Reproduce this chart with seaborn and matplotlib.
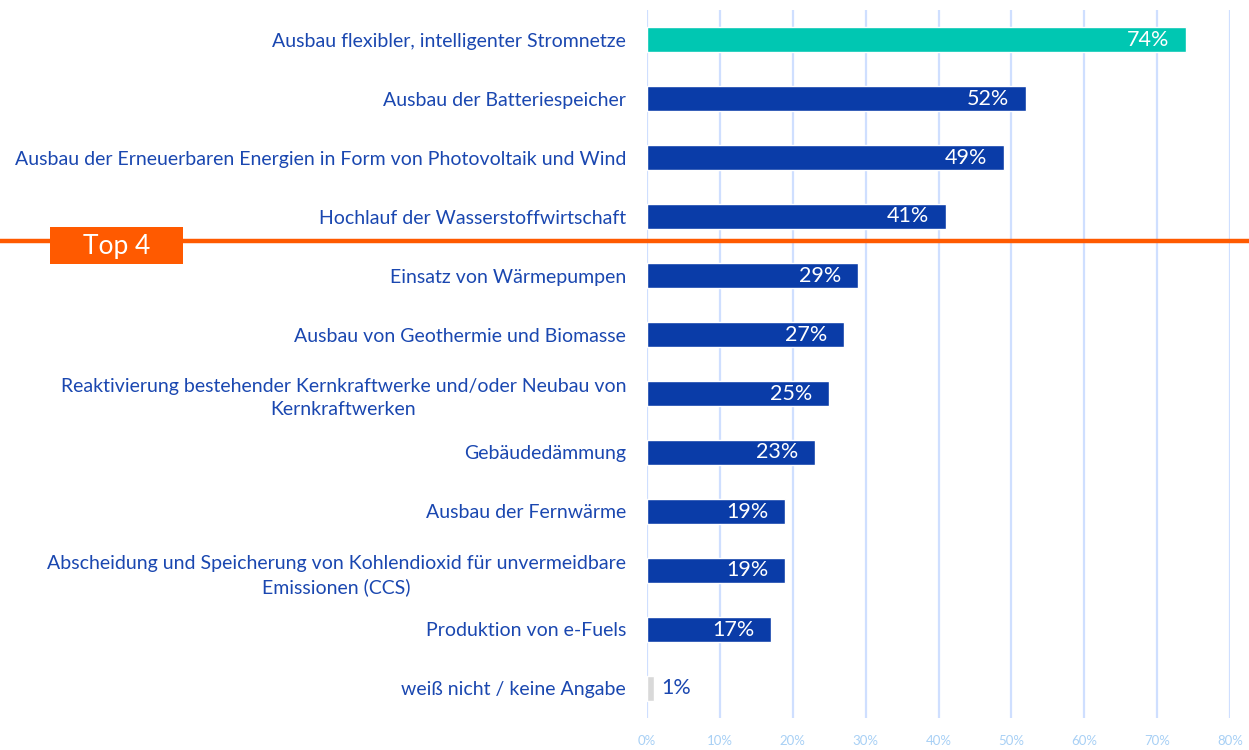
import matplotlib
matplotlib.use("Agg")
import matplotlib.pyplot as plt
import seaborn as sns
import pandas as pd
from matplotlib.patches import Rectangle

categories = [
    "Ausbau flexibler, intelligenter Stromnetze",
    "Ausbau der Batteriespeicher",
    "Ausbau der Erneuerbaren Energien in Form von Photovoltaik und Wind",
    "Hochlauf der Wasserstoffwirtschaft",
    "Einsatz von Wärmepumpen",
    "Ausbau von Geothermie und Biomasse",
    "Reaktivierung bestehender Kernkraftwerke und/oder Neubau von\nKernkraftwerken",
    "Gebäudedämmung",
    "Ausbau der Fernwärme",
    "Abscheidung und Speicherung von Kohlendioxid für unvermeidbare\nEmissionen (CCS)",
    "Produktion von e-Fuels",
    "weiß nicht / keine Angabe",
]
values = [74, 52, 49, 41, 29, 27, 25, 23, 19, 19, 17, 1]
x_ticks = [0, 10, 20, 30, 40, 50, 60, 70, 80]

TEAL = "#00C7B2"
BLUE = "#0A3CA8"
GREY = "#D9D9D9"
TEXT_BLUE = "#1A47B0"
GRID = "#CFDFFF"
TICK = "#A8D0F5"
ORANGE = "#FF5A00"

colors = [TEAL] + [BLUE] * 10 + [GREY]

sns.set_theme(style="white")
plt.rcParams["font.family"] = ["Lato", "DejaVu Sans"]

fig = plt.figure(figsize=(12.49, 7.5), dpi=100)
W, H = 1249, 750
ax = fig.add_axes([647 / W, 1 - 718 / H, (1230 - 647) / W, (718 - 10) / H])

df = pd.DataFrame({"cat": categories, "val": values})
sns.barplot(data=df, x="val", y="cat", hue="cat", palette=colors, legend=False,
            orient="h", width=0.44, ax=ax, saturation=1, zorder=3)

ax.set_xlim(0, 80)
ax.set_ylim(len(categories) - 0.5, -0.5)
ax.set_xticks(x_ticks)
ax.set_xticklabels([f"{t}%" for t in x_ticks], color=TICK, fontsize=9.5)
ax.tick_params(axis="x", length=0, pad=12)
ax.tick_params(axis="y", length=0, pad=15)
ax.set_yticks(range(len(categories)))
ax.set_yticklabels(categories, color=TEXT_BLUE, fontsize=14, multialignment="center",
                   linespacing=1.45)
ax.set_xlabel("")
ax.set_ylabel("")
for s in ax.spines.values():
    s.set_visible(False)
ax.grid(axis="x", color=GRID, linewidth=1.6, zorder=0)
ax.grid(axis="y", visible=False)
ax.set_axisbelow(True)

for i, v in enumerate(values):
    if v >= 5:
        ax.annotate(f"{v}%", xy=(v, i), xytext=(-12, 0), textcoords="offset points",
                    ha="right", va="center", color="white", fontsize=15.5)
    else:
        ax.annotate(f"{v}%", xy=(v, i), xytext=(5, 0), textcoords="offset points",
                    ha="left", va="center", color=TEXT_BLUE, fontsize=15.5)

# Top 4 separator line
ax.axhline(3.41, xmin=-647 / 583, xmax=(W - 647) / 583, color=ORANGE, linewidth=3.2,
           clip_on=False, zorder=5)
fig.add_artist(Rectangle((50 / W, 1 - 264 / H), 133 / W, 37 / H, transform=fig.transFigure,
                         facecolor=ORANGE, edgecolor="none", zorder=6))
fig.text(116.5 / W, 1 - 246 / H, "Top 4", color="white", fontsize=19, ha="center",
         va="center", zorder=7)

fig.savefig("out.png", dpi=100)
